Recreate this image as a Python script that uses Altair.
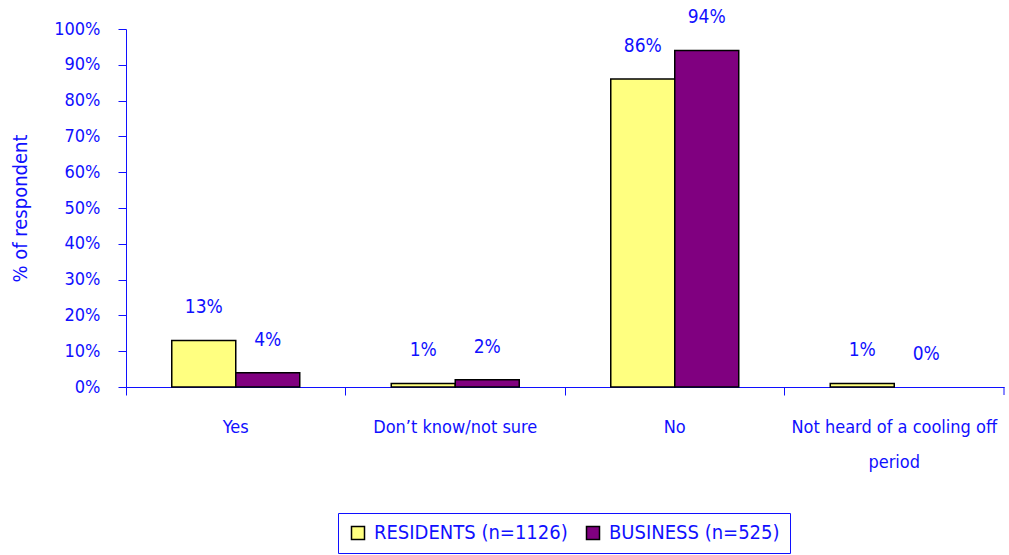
import altair as alt
import pandas as pd

categories = ["Yes", "Don’t know/not sure", "No", "Not heard of a cooling off period"]
series = ["RESIDENTS (n=1126)", "BUSINESS (n=525)"]
residents = [0.13, 0.01, 0.86, 0.01]
business = [0.04, 0.02, 0.94, 0.0]
colors = ["#FFFF80", "#800080"]
y_ticks = [0, 0.1, 0.2, 0.3, 0.4, 0.5, 0.6, 0.7, 0.8, 0.9, 1.0]

rows = []
for i, c in enumerate(categories):
    rows.append({"cat": c, "series": series[0], "value": residents[i]})
    rows.append({"cat": c, "series": series[1], "value": business[i]})
df = pd.DataFrame(rows)

BLUE = "#1010ff"
FONT = "DejaVu Sans Condensed, Liberation Sans, sans-serif"
FS = 18
W, H = 878, 358

label_expr = ("datum.value == 'Not heard of a cooling off period' ? "
              "['Not heard of a cooling off', 'period'] : datum.value")

x_axis = alt.Axis(
    labelAngle=0, labelColor=BLUE, labelFont=FONT, labelFontSize=FS,
    labelExpr=label_expr, labelLineHeight=35, labelPadding=23,
    domainColor=BLUE, tickColor=BLUE, tickSize=8, bandPosition=0,
    labelBaseline="top", labelLimit=300,
)
x_scale = alt.Scale(paddingInner=0, paddingOuter=0)
y_axis = alt.Axis(
    format=".0%", values=y_ticks, grid=False, labelOverlap=False,
    labelColor=BLUE, labelFont=FONT, labelFontSize=FS, labelPadding=18,
    domainColor=BLUE, tickColor=BLUE, tickSize=8,
    titleColor=BLUE, titleFont=FONT, titleFontSize=20, titleFontWeight="normal",
    titleX=-106, titleY=H / 2, titleAlign="center", titleBaseline="middle",
    titleAngle=-90,
)
y_scale = alt.Scale(domain=[0, 1], nice=False)

x_enc = alt.X("cat:N", sort=categories, title=None, scale=x_scale, axis=x_axis)
xoff = alt.XOffset("series:N", sort=series,
                   scale=alt.Scale(paddingInner=0, paddingOuter=0.715))
y_enc = alt.Y("value:Q", title="% of respondent", scale=y_scale, axis=y_axis)

bars = alt.Chart(df).mark_bar(stroke="black", strokeWidth=1.5).encode(
    x=x_enc, xOffset=xoff, y=y_enc,
    strokeOpacity=alt.condition("datum.value == 0", alt.value(0), alt.value(1)),
    color=alt.Color(
        "series:N", sort=series,
        scale=alt.Scale(domain=series, range=colors),
        legend=alt.Legend(
            title=None, orient="none", legendX=212, legendY=484,
            direction="horizontal", strokeColor=BLUE, padding=10,
            symbolType="square", symbolSize=169, symbolStrokeColor="black",
            symbolStrokeWidth=1.5, symbolOpacity=1,
            labelColor=BLUE, labelFont=FONT, labelFontSize=20, labelOffset=6,
            columnPadding=15, labelLimit=400,
        ),
    ),
)

labels = alt.Chart(df).mark_text(
    dy=-33, baseline="middle", align="center", color=BLUE, font=FONT, fontSize=19
).encode(
    x=x_enc, xOffset=xoff, y=y_enc,
    text=alt.Text("value:Q", format=".0%"),
)

end_tick = alt.Chart(pd.DataFrame({"cat": [categories[-1]]})).mark_rule(
    color=BLUE, strokeWidth=1
).encode(
    x=alt.X("cat:N", sort=categories, title=None, scale=x_scale, axis=x_axis,
            bandPosition=1),
    y=alt.value(H), y2=alt.value(H + 8),
)

chart = alt.layer(bars, labels, end_tick).properties(
    width=W, height=H,
    background="white",
    autosize=alt.AutoSizeParams(type="none"),
    padding={"left": 126, "top": 29, "right": 5, "bottom": 168},
).configure_view(stroke=None)

chart.save("out.html", embed_options={"renderer": "svg", "actions": False})
